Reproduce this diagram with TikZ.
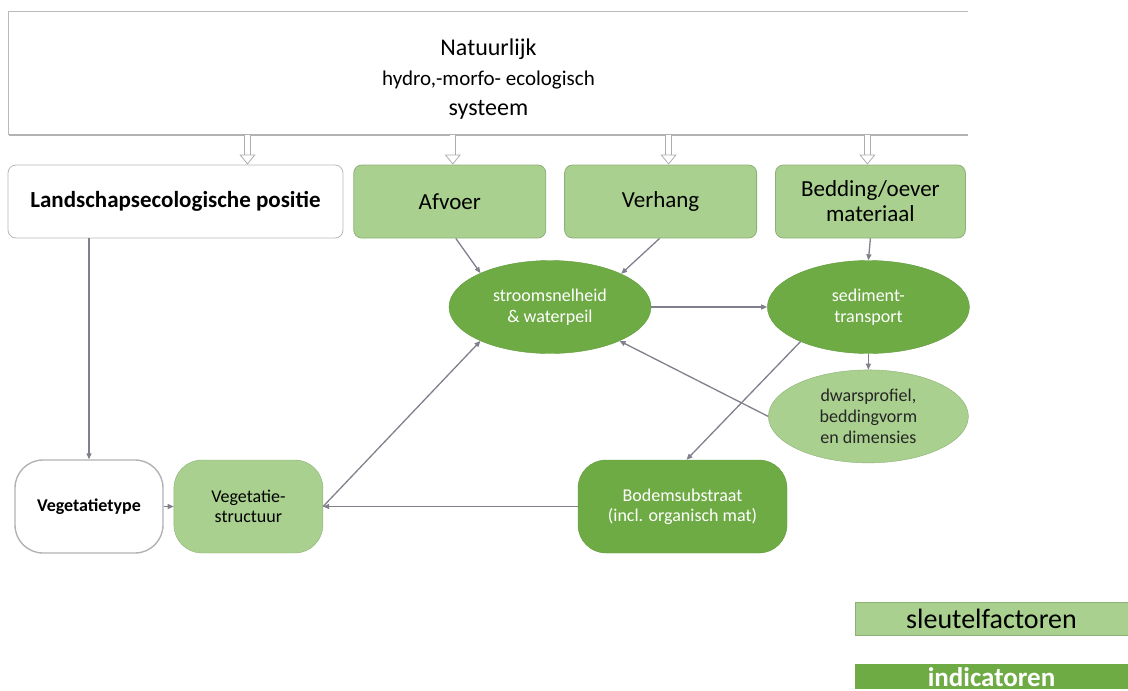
\documentclass[tikz,border=0pt]{standalone}
\usepackage{fontspec}
\setmainfont{Carlito}
\usetikzlibrary{positioning,arrows.meta,shapes.geometric}

\definecolor{keygreen}{HTML}{A9D08E}
\definecolor{indgreen}{HTML}{6FAB45}
\definecolor{keyline}{HTML}{8DB079}
\definecolor{indline}{HTML}{5E9A3A}
\definecolor{linkgray}{HTML}{80808C}

\begin{document}
\begin{tikzpicture}[
      x=1pt, y=-1pt,
      node distance=18pt,
      every node/.style={align=center, inner sep=2pt},
      box/.style={
        draw=gray!55,
        line width=0.8pt,
        rectangle,
        rounded corners=8pt,
        minimum width=192pt,
        minimum height=73pt,
        font=\fontsize{23}{25}\selectfont
      },
      keybox/.style={box, fill=keygreen, draw=keyline},
      pill/.style={
        rectangle,
        rounded corners=28pt,
        minimum width=148pt,
        minimum height=93pt,
        font=\fontsize{18}{20}\selectfont
      },
      blob/.style={
        ellipse,
        minimum width=202pt,
        minimum height=93pt,
        font=\fontsize{18}{21}\selectfont
      },
      legend/.style={
        rectangle,
        minimum width=273pt,
        minimum height=33pt,
        font=\fontsize{28}{30}\selectfont
      },
      conn/.style={draw=linkgray, line width=1.3pt, -{Triangle[length=6pt,width=5pt]}},
      hollow/.style={
        draw=gray!65,
        line width=0.8pt,
        double=white,
        double distance=5pt,
        -{Triangle[open,length=10pt,width=16pt]}
      }
    ]
    \clip (0,0) rectangle (1128,691);

    % Top system box (open at the right)
    \node (top) [minimum width=959pt, minimum height=123pt, font=\fontsize{24}{30}\selectfont] at (488.5,73.5)
      {\rule{0pt}{28pt}Natuurlijk\\
       {\fontsize{21}{30}\selectfont hydro,-morfo- ecologisch}\\
       systeem};
    \draw[gray!55, line width=0.8pt] (top.north east) -- (top.north west) -- (top.south west);
    \draw[gray!60, line width=2pt] (top.south west) -- (top.south east);

    % Row 1
    \node (land) [box, minimum width=335pt, font=\fontsize{23}{25}\selectfont\bfseries] at (175.5,201.5)
      {Landschapsecologische positie};
    \node (afv) [keybox, right=10pt of land] {Afvoer};
    \node (verh) [keybox, right=of afv] {Verhang};
    \node (bed) [keybox, minimum width=190pt, right=of verh] {Bedding/oever\\ materiaal};

    % Row 2
    \node (strooms) [blob, fill=indgreen, draw=indline, text=white] at (550,307)
      {stroomsnelheid\\ \& waterpeil};
    \node (sed) [blob, fill=indgreen, draw=indline, text=white, right=116pt of strooms]
      {sediment-\\ transport};
    \node (dwars) [blob, fill=keygreen, draw=keyline, text=black!85, minimum width=200pt, below=16pt of sed]
      {dwarsprofiel,\\ beddingvorm\\ en dimensies};

    % Row 3
    \node (vtype) [pill, draw=gray!60, line width=1.4pt, font=\fontsize{18}{20}\selectfont\bfseries] at (89,506.5)
      {Vegetatietype};
    \node (vstruct) [pill, fill=keygreen, draw=keyline, minimum width=149pt, right=10pt of vtype]
      {Vegetatie-\\ structuur};
    \node (bodem) [pill, fill=indgreen, draw=indline, text=white, minimum width=209pt] at (682.5,506.5)
      {Bodemsubstraat\\ (incl. organisch mat)};

    % Legend
    \node (sleutel) [legend, fill=keygreen, draw=keyline] at (991.5,618.5) {sleutelfactoren};
    \node (indic) [legend, fill=indgreen, text=white, minimum height=25pt,
                   font=\fontsize{27}{30}\selectfont\bfseries, below=29pt of sleutel]
      {indicatoren};

    % Hollow arrows from the system
    \draw[hollow] ([xshift=72pt]land.north |- top.south) -- ([xshift=72pt]land.north);
    \draw[hollow] ([xshift=3pt]afv.north |- top.south) -- ([xshift=3pt]afv.north);
    \draw[hollow] ([xshift=8pt]verh.north |- top.south) -- ([xshift=8pt]verh.north);
    \draw[hollow] ([xshift=-3pt]bed.north |- top.south) -- ([xshift=-3pt]bed.north);

    % Connectors
    \draw[conn] (land.south -| vtype.north) -- (vtype.north);
    \draw[conn] ([xshift=6pt]afv.south) -- (strooms.154);
    \draw[conn] ([xshift=-1pt]verh.south) -- (strooms.25);
    \draw[conn] (bed.south) -- (sed.north);
    \draw[conn] (strooms.east) -- (sed.west);
    \draw[conn] (sed.south) -- (dwars.north);
    \draw[conn] (dwars.west) -- (strooms.334);
    \draw[conn] (sed.207) -- ([xshift=4pt]bodem.north);
    \draw[conn] (bodem.west) -- (vstruct.east);
    \draw[conn] (vstruct.east) -- (strooms.206);
    \draw[conn] (vtype.east) -- (vstruct.west);
  \end{tikzpicture}
\end{document}
